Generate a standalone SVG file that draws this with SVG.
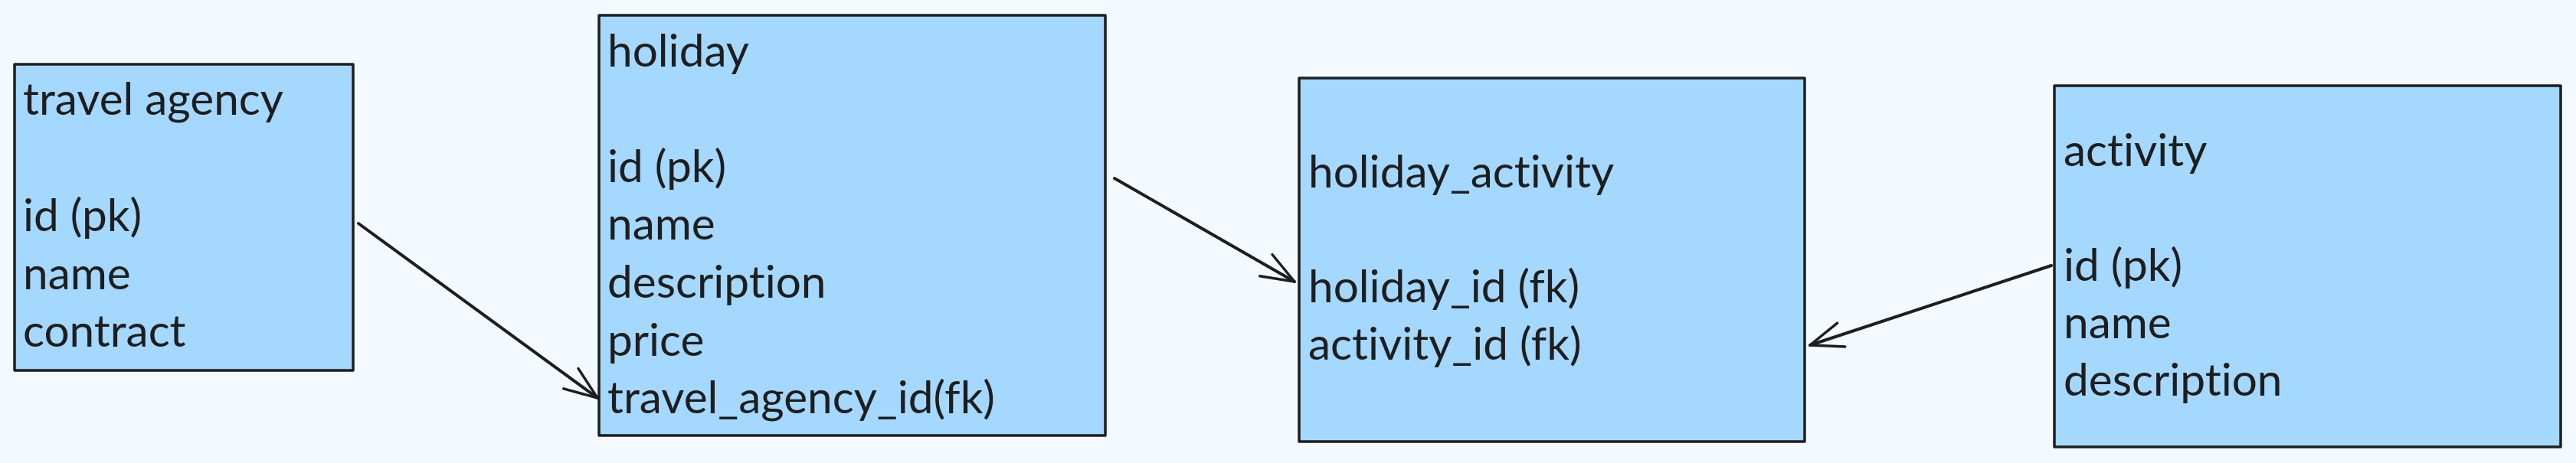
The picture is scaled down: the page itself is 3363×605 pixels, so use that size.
<svg xmlns="http://www.w3.org/2000/svg" width="3363" height="605" viewBox="0 0 3363 605">
<style>
.box{fill:#a5d8ff;stroke:#1e1e1e;stroke-width:3.5;stroke-linejoin:round}
.t{font-family:Lato,"Open Sans","Liberation Sans",sans-serif;font-size:58.5px;fill:#1e1e1e;font-variant-ligatures:none}
.edge{fill:none;stroke:#1e1e1e;stroke-width:4;stroke-linecap:round;marker-end:url(#open)}
</style>
<defs>
<marker id="open" markerUnits="userSpaceOnUse" orient="auto" refX="0" refY="0" markerWidth="60" markerHeight="60" viewBox="-60 -30 70 60" style="overflow:visible">
<path d="M-50,-19 L0,0 L-50,19" fill="none" stroke="#1e1e1e" stroke-width="4" stroke-linecap="round" stroke-linejoin="round"/>
</marker>
</defs>
<rect width="3363" height="605" fill="#f4f9fd"/>
<g id="travel_agency">
<rect class="box" x="19" y="84" width="442" height="400"/>
<text class="t" x="30" y="150">travel agency</text>
<text class="t" x="30" y="302">id (pk)</text>
<text class="t" x="30" y="378">name</text>
<text class="t" x="30" y="453">contract</text>
</g>
<g id="holiday">
<rect class="box" x="782" y="20" width="661" height="549"/>
<text class="t" x="793" y="87">holiday</text>
<text class="t" x="793" y="238">id (pk)</text>
<text class="t" x="793" y="313">name</text>
<text class="t" x="793" y="389">description</text>
<text class="t" x="793" y="465">price</text>
<text class="t" x="793" y="540">travel_agency_id(fk)</text>
</g>
<g id="holiday_activity">
<rect class="box" x="1696" y="102" width="660" height="475"/>
<text class="t" x="1708" y="245">holiday_activity</text>
<text class="t" x="1708" y="395">holiday_id (fk)</text>
<text class="t" x="1708" y="470">activity_id (fk)</text>
</g>
<g id="activity">
<rect class="box" x="2682" y="112" width="661" height="472"/>
<text class="t" x="2694" y="217">activity</text>
<text class="t" x="2694" y="367">id (pk)</text>
<text class="t" x="2694" y="442">name</text>
<text class="t" x="2694" y="517">description</text>
</g>
<g id="connectors">
<line class="edge" x1="468" y1="292" x2="780" y2="520"/>
<line class="edge" x1="1455" y1="233" x2="1690" y2="368"/>
<line class="edge" x1="2678" y1="347" x2="2363" y2="451"/>
</g>
</svg>
